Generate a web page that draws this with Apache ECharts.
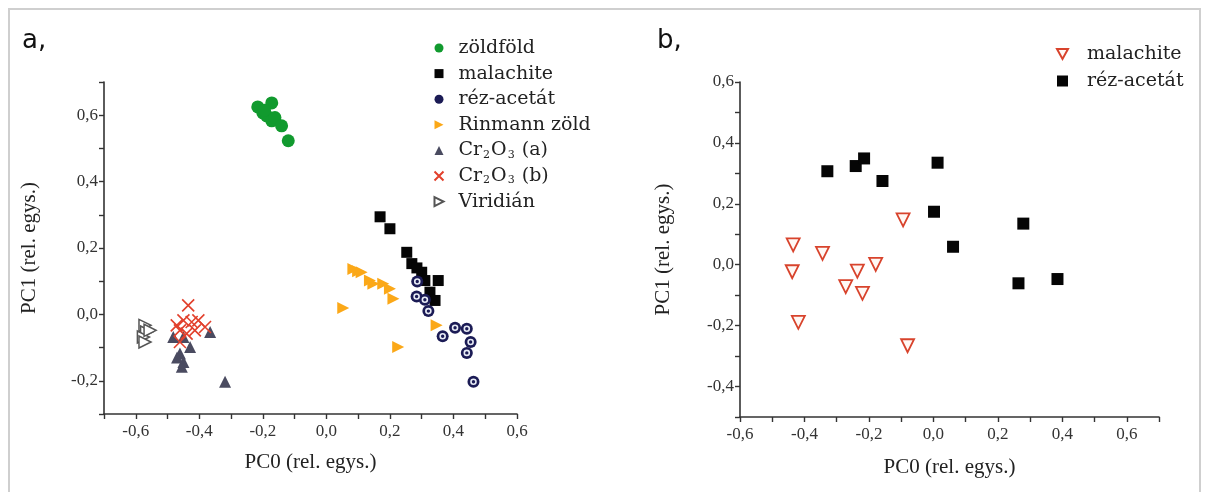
<!DOCTYPE html>
<html>
<head>
<meta charset="utf-8">
<title>PCA</title>
<script src="https://cdn.jsdelivr.net/npm/echarts@6/dist/echarts.min.js"></script>
<style>
	html, body { margin: 0; padding: 0; background: #fff; }
	#chart { width: 1208px; height: 492px; }
</style>
</head>
<body>
<div id="chart"></div>
<script>
	//a, panel - [PC0, PC1]
	var zoldfold = [[-0.216, 0.625], [-0.172, 0.637], [-0.200, 0.607], [-0.188, 0.598], [-0.172, 0.583], [-0.162, 0.593], [-0.141, 0.568], [-0.120, 0.523], [-0.195, 0.615]];
	var malachiteA = [[0.169, 0.294], [0.200, 0.258], [0.253, 0.187], [0.269, 0.153], [0.300, 0.127], [0.310, 0.102], [0.352, 0.102], [0.326, 0.067], [0.342, 0.042], [0.285, 0.140]];
	var rezAcetatA = [[0.286, 0.099], [0.284, 0.054], [0.310, 0.044], [0.321, 0.010], [0.366, -0.066], [0.405, -0.040], [0.442, -0.043], [0.454, -0.083], [0.442, -0.116], [0.463, -0.203]];
	var rinmann = [[0.053, 0.019], [0.085, 0.137], [0.111, 0.127], [0.137, 0.102], [0.148, 0.092], [0.179, 0.092], [0.200, 0.077], [0.211, 0.047], [0.226, -0.098], [0.347, -0.033], [0.100, 0.130]];
	var cr2o3a = [[-0.482, -0.068], [-0.450, -0.068], [-0.429, -0.098], [-0.461, -0.118], [-0.450, -0.143], [-0.455, -0.158], [-0.366, -0.053], [-0.319, -0.203], [-0.470, -0.130]];
	var cr2o3b = [[-0.435, 0.027], [-0.450, -0.018], [-0.471, -0.033], [-0.424, -0.023], [-0.403, -0.018], [-0.382, -0.038], [-0.461, -0.048], [-0.440, -0.058], [-0.414, -0.048], [-0.461, -0.083]];
	var viridian = [[-0.571, -0.033], [-0.566, -0.053], [-0.576, -0.068], [-0.571, -0.083], [-0.555, -0.048]];

	//b, panel
	var malachiteB = [[-0.435, 0.065], [-0.438, -0.023], [-0.344, 0.037], [-0.419, -0.189], [-0.272, -0.072], [-0.236, -0.021], [-0.220, -0.094], [-0.179, 0.001], [-0.094, 0.147], [-0.080, -0.266]];
	var rezAcetatB = [[-0.329, 0.307], [-0.241, 0.324], [-0.215, 0.349], [-0.158, 0.275], [0.013, 0.335], [0.002, 0.174], [0.279, 0.135], [0.061, 0.059], [0.264, -0.061], [0.385, -0.047]];

	var legendA = ['zöldföld', 'malachite', 'réz-acetát', 'Rinmann zöld', 'Cr2O3 (a)', 'Cr2O3 (b)', 'Viridián'];
	var legendB = ['malachite ', 'réz-acetát '];
	var axisNameX = 'PC0 (rel. egys.)';
	var axisNameY = 'PC1 (rel. egys.)';

	var serif = 'Liberation Serif';
	var axisColor = '#333';
	var crossPath = 'path://M0,0L10,10M10,0L0,10';
	var rightTri = 'path://M0,0L10,5L0,10Z';
	var downTri = 'path://M0,0L10,0L5,9Z';

	//tengely felirat: csak minden második osztás, vesszős tizedes
	function tickLabel(v) {
		var k = Math.round(v * 10);
		if(k % 2 != 0) return '';
		return (k / 10).toFixed(1).replace('.', ',');
	}

	function valueAxis(idx, min, max, name, gap, isY) {
		return {
			type: 'value',
			gridIndex: idx,
			min: min,
			max: max,
			interval: 0.1,
			name: name,
			nameLocation: 'middle',
			nameGap: gap,
			nameTextStyle: { fontFamily: serif, fontSize: 21, color: '#222' },
			axisLine: { onZero: false, lineStyle: { color: axisColor, width: 1.6 } },
			axisTick: { show: true, inside: false, length: 5, lineStyle: { color: axisColor, width: 1.4 } },
			axisLabel: { formatter: tickLabel, fontFamily: serif, fontSize: 17, color: '#333', margin: isY ? 6 : 9, showMinLabel: true, showMaxLabel: true },
			splitLine: { show: false }
		};
	}

	function legendText(padLeft) {
		return {
			fontFamily: 'DejaVu Serif',
			fontSize: 19,
			color: '#222',
			lineHeight: 20,
			padding: [0, 0, 0, padLeft],
			rich: {
				sub: { fontFamily: 'DejaVu Serif', fontSize: 11, color: '#222', padding: [9, 1, 0, 1] },
				txt: { fontFamily: 'DejaVu Serif', fontSize: 19, color: '#222' }
			}
		};
	}

	function legendFormat(name) {
		if(name.indexOf('Cr2O3') == 0) {
			return 'Cr{sub|2}O{sub|3}{txt| ' + name.substring(6) + '}';
		}
		return name;
	}

	//jelmagyarázat elemek, a forgatott háromszögek külön ikonnal
	var legendDataA = [];
	for(var i = 0; i < legendA.length; i++) {
		var item = { name: legendA[i] };
		if(legendA[i] == 'Rinmann zöld' || legendA[i] == 'Viridián') {
			item.icon = rightTri;
		}
		legendDataA.push(item);
	}
	var legendDataB = [{ name: legendB[0], icon: downTri }, { name: legendB[1] }];

	var myChart = echarts.init(document.getElementById('chart'), null, { renderer: 'canvas' });

	var option = {
		animation: false,
		backgroundColor: '#fff',
		graphic: [
			{ type: 'rect', shape: { x: 9, y: 9, width: 1191, height: 492 }, style: { fill: 'none', stroke: '#cfcfcf', lineWidth: 2 }, silent: true },
			{ type: 'text', left: 22, top: 28, style: { text: 'a,', font: '26px "DejaVu Sans"', fill: '#111' } },
			{ type: 'text', left: 657, top: 28, style: { text: 'b,', font: '26px "DejaVu Sans"', fill: '#111' } }
		],
		grid: [
			{ left: 104, top: 82, width: 413, height: 332 },
			{ left: 740, top: 82, width: 419, height: 335 }
		],
		xAxis: [
			valueAxis(0, -0.7, 0.6, axisNameX, 38, false),
			valueAxis(1, -0.6, 0.7, axisNameX, 40, false)
		],
		yAxis: [
			valueAxis(0, -0.3, 0.7, axisNameY, 64, true),
			valueAxis(1, -0.5, 0.6, axisNameY, 66, true)
		],
		legend: [
			{
				data: legendDataA,
				orient: 'vertical',
				left: 427,
				top: 33,
				itemWidth: 9,
				itemHeight: 9,
				itemGap: 5.6,
				textStyle: legendText(10),
				formatter: legendFormat
			},
			{
				data: legendDataB,
				orient: 'vertical',
				left: 1051,
				top: 39,
				itemWidth: 11,
				itemHeight: 11,
				itemGap: 7,
				textStyle: legendText(14)
			}
		],
		series: [
			{
				name: 'zöldföld', type: 'scatter', xAxisIndex: 0, yAxisIndex: 0,
				data: zoldfold, symbol: 'circle', symbolSize: 13,
				itemStyle: { color: '#119a2e', opacity: 1 }
			},
			{
				name: 'malachite', type: 'scatter', xAxisIndex: 0, yAxisIndex: 0,
				data: malachiteA, symbol: 'rect', symbolSize: 11,
				itemStyle: { color: '#050505', opacity: 1 }
			},
			{
				name: 'réz-acetát', type: 'scatter', xAxisIndex: 0, yAxisIndex: 0,
				data: rezAcetatA, symbol: 'circle', symbolSize: 12,
				itemStyle: { color: '#1b1b55', opacity: 1 }
			},
			{
				//belső fehér gyűrű + pont
				name: 'réz-acetát belső', type: 'scatter', xAxisIndex: 0, yAxisIndex: 0,
				data: rezAcetatA, symbol: 'circle', symbolSize: 5,
				itemStyle: { color: '#1b1b55', borderColor: '#e8ecf6', borderWidth: 1.6, opacity: 1 }
			},
			{
				name: 'Rinmann zöld', type: 'scatter', xAxisIndex: 0, yAxisIndex: 0,
				data: rinmann, symbol: 'triangle', symbolSize: 12, symbolRotate: -90,
				itemStyle: { color: '#fba818', opacity: 1 }
			},
			{
				name: 'Cr2O3 (a)', type: 'scatter', xAxisIndex: 0, yAxisIndex: 0,
				data: cr2o3a, symbol: 'triangle', symbolSize: 12,
				itemStyle: { color: '#4a4b60', opacity: 1 }
			},
			{
				name: 'Cr2O3 (b)', type: 'scatter', xAxisIndex: 0, yAxisIndex: 0,
				data: cr2o3b, symbol: crossPath, symbolSize: 12,
				itemStyle: { color: 'none', borderColor: '#e2402c', borderWidth: 1.6, opacity: 1 }
			},
			{
				name: 'Viridián', type: 'scatter', xAxisIndex: 0, yAxisIndex: 0,
				data: viridian, symbol: 'triangle', symbolSize: 12, symbolRotate: -90,
				itemStyle: { color: '#fff', borderColor: '#555', borderWidth: 1.5, opacity: 1 }
			},
			{
				name: 'malachite ', type: 'scatter', xAxisIndex: 1, yAxisIndex: 1,
				data: malachiteB, symbol: 'triangle', symbolSize: 13, symbolRotate: 180,
				itemStyle: { color: '#fff8f4', borderColor: '#d8432c', borderWidth: 1.8, opacity: 1 }
			},
			{
				name: 'réz-acetát ', type: 'scatter', xAxisIndex: 1, yAxisIndex: 1,
				data: rezAcetatB, symbol: 'rect', symbolSize: 12,
				itemStyle: { color: '#050505', opacity: 1 }
			}
		]
	};

	myChart.setOption(option);
</script>
</body>
</html>
